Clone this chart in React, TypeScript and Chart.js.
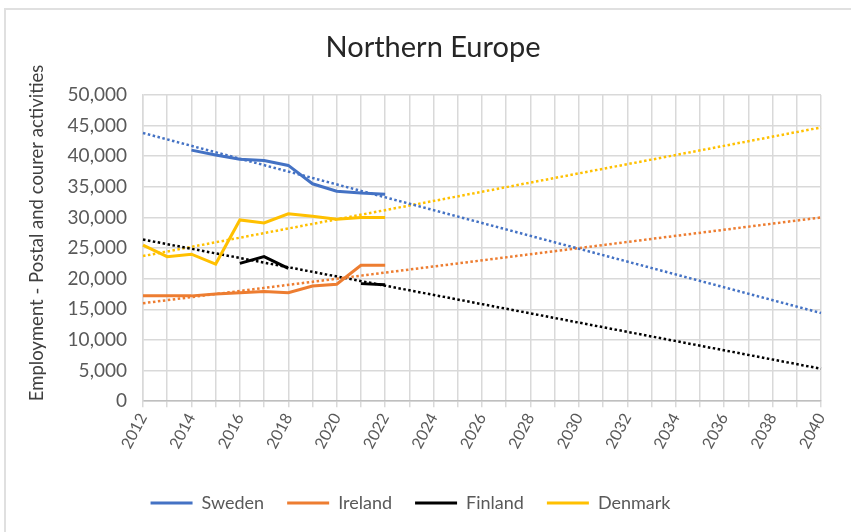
import React, { useEffect, useRef } from "react";
import { Chart, registerables } from "chart.js";

Chart.register(...registerables);

const titleText = "Northern Europe";
const yAxisTitle = "Employment - Postal and courer activities";

const years = [
  "2012", "2013", "2014", "2015", "2016", "2017", "2018", "2019", "2020", "2021",
  "2022", "2023", "2024", "2025", "2026", "2027", "2028", "2029", "2030", "2031",
  "2032", "2033", "2034", "2035", "2036", "2037", "2038", "2039", "2040",
];

// observed values 2012..2022
const sweden = [null, null, 41000, 40200, 39500, 39300, 38500, 35500, 34300, 34000, 33800];
const ireland = [17200, 17200, 17200, 17500, 17700, 17900, 17700, 18800, 19100, 22200, 22200];
const finland = [null, null, null, null, 22500, 23600, 21700, null, null, 19200, 19000];
const denmark = [25500, 23600, 24000, 22400, 29600, 29100, 30600, 30200, 29700, 30000, 30000];

// linear trendline end values [2012, 2040]
const swedenTrend = [43800, 14400];
const irelandTrend = [16000, 30000];
const finlandTrend = [26400, 5300];
const denmarkTrend = [23700, 44700];

const yTicks = [0, 5000, 10000, 15000, 20000, 25000, 30000, 35000, 40000, 45000, 50000];

const FONT = "Lato, 'Open Sans', sans-serif";

const pad = (arr: (number | null)[]) =>
  years.map((_, i) => (i < arr.length ? arr[i] : null));
const trend = (ends: number[]) =>
  years.map((_, i) => (i === 0 ? ends[0] : i === years.length - 1 ? ends[1] : null));

const titlePlugin = {
  id: "offsetTitle",
  afterDraw(chart: any) {
    const ctx = chart.ctx;
    ctx.save();
    ctx.fillStyle = "#262626";
    ctx.font = `29px ${FONT}`;
    ctx.textAlign = "center";
    ctx.textBaseline = "alphabetic";
    ctx.fillText(titleText, 433, 57);
    ctx.restore();
  },
};

export default function App() {
  const ref = useRef<HTMLCanvasElement>(null);

  useEffect(() => {
    if (!ref.current) return;
    const mk = (label: string, data: (number | null)[], color: string) => ({
      label,
      data: pad(data),
      borderColor: color,
      backgroundColor: color,
      borderWidth: 3,
      pointRadius: 0,
      tension: 0,
      spanGaps: false,
    });
    const mkTrend = (label: string, ends: number[], color: string) => ({
      label,
      data: trend(ends),
      borderColor: color,
      backgroundColor: color,
      borderWidth: 2.5,
      borderDash: [2.5, 2.5],
      pointRadius: 0,
      spanGaps: true,
      isTrend: true,
    });
    const chart = new Chart(ref.current, {
      type: "line",
      data: {
        labels: years,
        datasets: [
          mk("Sweden", sweden, "#4472C4"),
          mk("Ireland", ireland, "#ED7D31"),
          mk("Finland", finland, "#000000"),
          mk("Denmark", denmark, "#FFC000"),
          mkTrend("Sweden trend", swedenTrend, "#4472C4"),
          mkTrend("Ireland trend", irelandTrend, "#ED7D31"),
          mkTrend("Finland trend", finlandTrend, "#000000"),
          mkTrend("Denmark trend", denmarkTrend, "#FFC000"),
        ] as any,
      },
      plugins: [titlePlugin],
      options: {
        animation: false,
        responsive: false,
        layout: { padding: { left: 0, right: 30, top: 95, bottom: 10 } },
        plugins: {
          title: { display: false },
          legend: {
            position: "bottom",
            labels: {
              usePointStyle: true,
              pointStyle: "line",
              pointStyleWidth: 42,
              color: "#595959",
              font: { family: FONT, size: 18 },
              padding: 23,
              filter: (item: any, data: any) => !data.datasets[item.datasetIndex].isTrend,
            },
          },
          tooltip: { enabled: false },
        },
        scales: {
          x: {
            type: "category",
            offset: false,
            afterFit: (s: any) => {
              s.height += 16;
            },
            grid: { color: "#d9d9d9", lineWidth: 1.5, tickLength: 6 },
            border: { color: "#bfbfbf", width: 1.5 },
            ticks: {
              autoSkip: false,
              minRotation: 62,
              maxRotation: 62,
              color: "#595959",
              font: { family: FONT, size: 16 },
              callback: (_v: any, i: number) => (i % 2 === 0 ? years[i] : ""),
            },
          },
          y: {
            min: 0,
            max: 50000,
            afterBuildTicks: (s: any) => {
              s.ticks = yTicks.map((v) => ({ value: v }));
            },
            afterFit: (s: any) => {
              s.width = 143;
            },
            grid: { color: "#d9d9d9", lineWidth: 1.5, drawTicks: false },
            border: { color: "#d9d9d9", width: 1.5 },
            ticks: {
              padding: 16,
              color: "#595959",
              font: { family: FONT, size: 19 },
              callback: (v: any) => Number(v).toLocaleString("en-US"),
            },
            title: {
              display: true,
              text: yAxisTitle,
              align: "start",
              color: "#404040",
              font: { family: FONT, size: 18.5 },
              padding: { top: 26, bottom: 0 },
            },
          },
        },
      },
    });
    return () => chart.destroy();
  }, []);

  return (
    <div style={{ position: "absolute", left: 0, top: 0, width: 851, height: 532, background: "#fff", overflow: "hidden" }}>
      <div
        style={{
          position: "absolute",
          left: 4,
          top: 8,
          width: 900,
          height: 600,
          borderTop: "2px solid #e0e0e0",
          borderLeft: "2px solid #e0e0e0",
        }}
      />
      <canvas ref={ref} width={851} height={532} style={{ position: "absolute", left: 0, top: 0 }} />
    </div>
  );
}
